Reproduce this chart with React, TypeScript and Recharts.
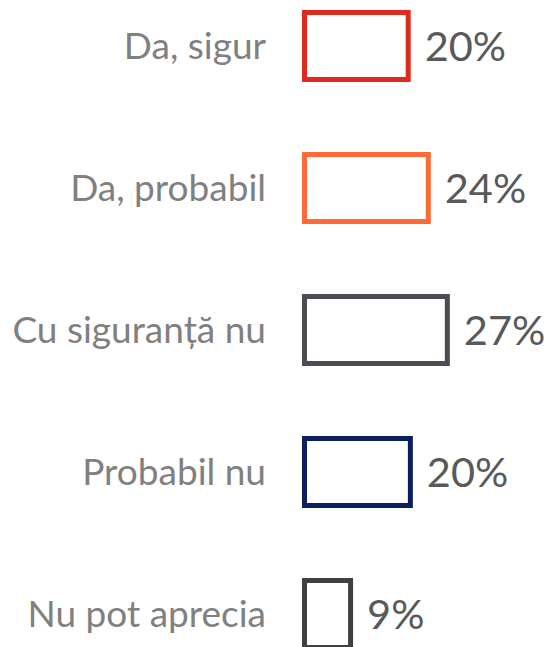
import React from "react";
import { BarChart, Bar, XAxis, YAxis, LabelList, Cell } from "recharts";

const categories = ["Da, sigur", "Da, probabil", "Cu siguranță nu", "Probabil nu", "Nu pot aprecia"];
const values = [20.0, 23.7, 27.2, 20.4, 9.4];
const labels = ["20%", "24%", "27%", "20%", "9%"];
const colors = ["#DE2B1E", "#FF6A36", "#4A4E52", "#0B1F5E", "#404040"];

const data = categories.map((c, i) => ({ name: c, value: values[i], label: labels[i] }));

const SW = 5;

const OutlineBar = (props: any) => {
  const { x, y, width, height, fill } = props;
  return (
    <rect
      x={x + SW / 2}
      y={y + SW / 2}
      width={Math.max(0, width - SW)}
      height={Math.max(0, height - SW)}
      fill="#ffffff"
      stroke={fill}
      strokeWidth={SW}
    />
  );
};

export default function App() {
  return (
    <div style={{ position: "absolute", left: 0, top: -25, width: 552, height: 710 }}>
      <BarChart
        width={552}
        height={710}
        data={data}
        layout="vertical"
        margin={{ top: 0, right: 0, bottom: 0, left: 0 }}
        barCategoryGap={70}
      >
        <XAxis type="number" domain={[0, 46]} hide />
        <YAxis
          type="category"
          dataKey="name"
          width={302}
          tickLine={false}
          axisLine={false}
          tickSize={0}
          tickMargin={36}
          tick={{ fontFamily: "Lato", fontSize: 37, fill: "#808080" }}
        />
        <Bar dataKey="value" isAnimationActive={false} shape={<OutlineBar />} barSize={72}>
          {data.map((d, i) => (
            <Cell key={i} fill={colors[i]} />
          ))}
          <LabelList
            dataKey="label"
            position="right"
            offset={14}
            style={{ fontFamily: "Lato", fontSize: 41.5, fill: "#595959" }}
          />
        </Bar>
      </BarChart>
    </div>
  );
}
